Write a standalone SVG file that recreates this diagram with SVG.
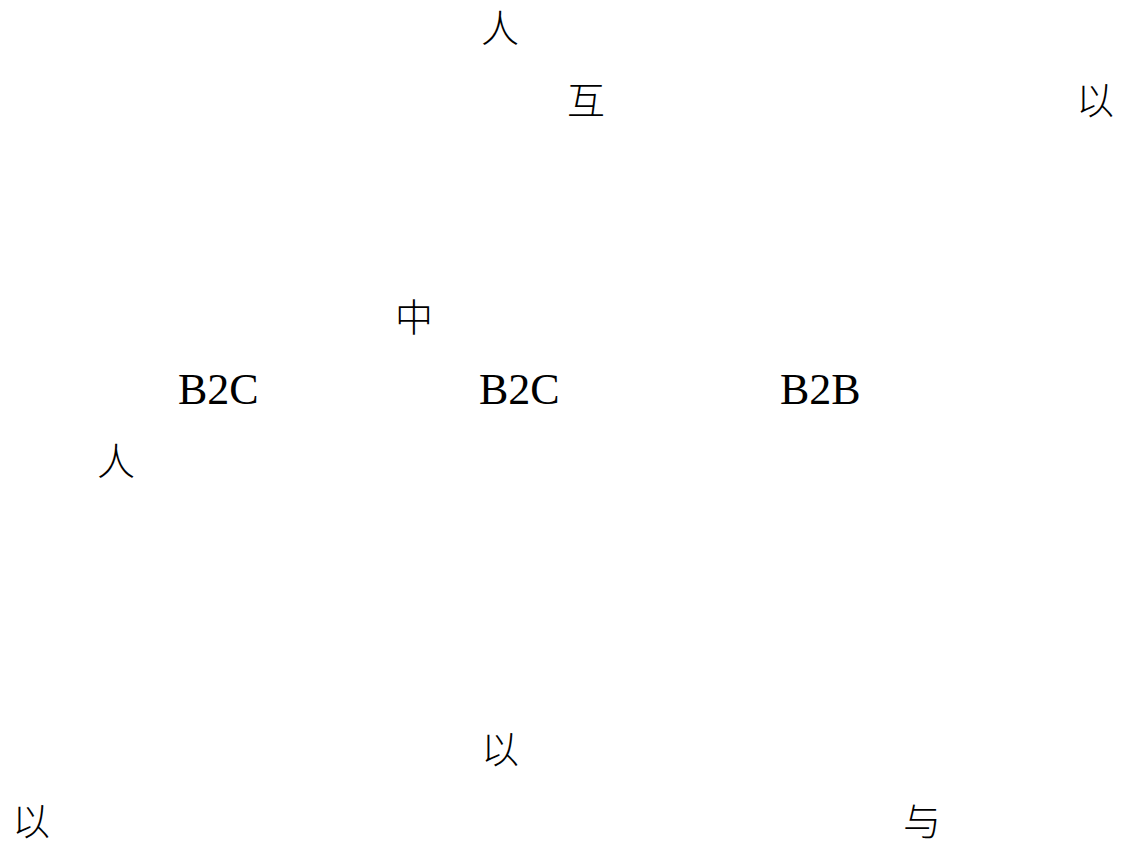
<svg xmlns="http://www.w3.org/2000/svg" width="1123" height="848" viewBox="0 0 1123 848">
<style>
.cjk{font-family:"Noto Sans CJK SC","Noto Sans",sans-serif;font-size:38px;font-weight:300;fill:#000}
.lat{font-family:"Liberation Serif","Times New Roman",serif;font-size:44px;fill:#000}
</style>
<rect width="1123" height="848" fill="#fff"/>
<g id="labels">
<text id="t1" class="cjk" x="481" y="42">人</text>
<text id="t2" class="cjk" x="567" y="114">互</text>
<text id="t3" class="cjk" x="1076" y="114">以</text>
<text id="t4" class="cjk" x="395" y="331">中</text>
<text id="t5" class="lat" x="178" y="404">B2C</text>
<text id="t6" class="lat" x="479" y="404">B2C</text>
<text id="t7" class="lat" x="780" y="404">B2B</text>
<text id="t8" class="cjk" x="97" y="475">人</text>
<text id="t9" class="cjk" x="481" y="763">以</text>
<text id="t10" class="cjk" x="12" y="835">以</text>
<text id="t11" class="cjk" x="903" y="835">与</text>
</g>
</svg>
